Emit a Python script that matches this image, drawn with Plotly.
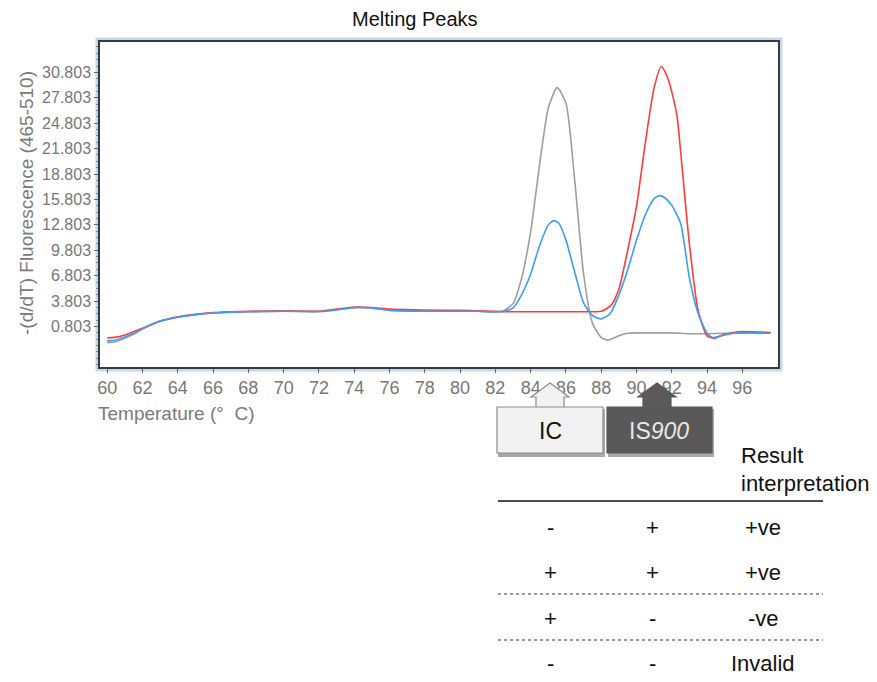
import plotly.graph_objects as go

# ---------------- data ----------------
temp_ic = [60, 60.5, 61, 61.5, 62, 63, 64, 65, 66, 67, 68, 70, 72, 73, 74, 75, 76, 78, 80, 81, 82,
           82.5, 83, 83.5, 84, 84.5, 85, 85.5, 86, 86.5, 87, 87.5, 88, 88.4, 89, 89.5, 90, 91, 92,
           93, 94, 95, 96, 97, 97.6]
fluor_ic = [-1.1, -1.0, -0.6, -0.1, 0.5, 1.4, 1.9, 2.2, 2.4, 2.5, 2.55, 2.6, 2.6, 2.8, 3.0, 2.95, 2.75,
            2.6, 2.65, 2.6, 2.5, 2.7, 3.5, 6.6, 12.0, 19.8, 26.6, 29.0, 27.2, 18.0, 7.0, 1.2, -0.5,
            -0.8, -0.3, 0.0, 0.05, 0.05, 0.05, -0.05, -0.05, 0.0, 0.0, 0.0, 0.0]

temp_is900 = [60, 60.5, 61, 61.5, 62, 63, 64, 65, 66, 67, 68, 70, 72, 73, 74, 75, 76, 78, 80, 81, 82,
              82.5, 84, 86, 88, 88.3, 88.6, 89, 89.5, 90, 90.5, 91, 91.4, 91.7, 92, 92.3, 92.5, 93,
              93.5, 94, 94.4, 95, 95.5, 96, 97, 97.6]
fluor_is900 = [-0.55, -0.45, -0.2, 0.2, 0.6, 1.45, 1.95, 2.25, 2.45, 2.55, 2.6, 2.65, 2.6, 2.85, 3.1,
               3.05, 2.85, 2.75, 2.7, 2.65, 2.6, 2.55, 2.55, 2.55, 2.6, 2.9, 3.4, 5.2, 9.8, 15.0,
               22.5, 29.0, 31.5, 30.5, 28.5, 25.6, 21.5, 10.5, 2.6, -0.3, -0.6, -0.1, 0.1, 0.2,
               0.15, 0.1]

temp_both = [60, 60.5, 61, 61.5, 62, 63, 64, 65, 66, 67, 68, 70, 72, 73, 74, 75, 76, 78, 80, 81, 82,
             82.5, 83, 83.5, 84, 84.5, 85, 85.3, 85.6, 86, 86.5, 87, 87.5, 88, 88.5, 89, 89.5, 90,
             90.5, 91, 91.3, 91.6, 92, 92.5, 93, 93.5, 94, 94.3, 95, 95.5, 96, 97, 97.6]
fluor_both = [-0.9, -0.8, -0.45, 0.0, 0.55, 1.45, 1.9, 2.2, 2.4, 2.5, 2.55, 2.6, 2.55, 2.75, 3.05,
              3.0, 2.7, 2.6, 2.6, 2.6, 2.55, 2.6, 3.0, 4.6, 7.0, 10.3, 12.8, 13.3, 13.0, 11.0, 7.2,
              3.6, 2.1, 1.7, 2.3, 4.5, 7.5, 11.0, 14.0, 15.9, 16.25, 16.0, 15.1, 13.0, 6.5, 2.3,
              0.0, -0.5, -0.2, 0.0, 0.05, 0.05, 0.0]

y_tick_vals = [0.803, 3.803, 6.803, 9.803, 12.803, 15.803, 18.803, 21.803, 24.803, 27.803, 30.803]
y_tick_text = ["0.803", "3.803", "6.803", "9.803", "12.803", "15.803", "18.803", "21.803",
               "24.803", "27.803", "30.803"]
x_tick_vals = [60, 62, 64, 66, 68, 70, 72, 74, 76, 78, 80, 82, 84, 86, 88, 90, 92, 94, 96]

table_cols = ["IC", "IS900", "Result interpretation"]
table_ic = ["-", "+", "+", "-"]
table_is900 = ["+", "+", "-", "-"]
table_result = ["+ve", "+ve", "-ve", "Invalid"]

# ---------------- layout helpers ----------------
W, H = 877, 682
L, R, T, B = 100, 778, 42, 367
FONT = "Liberation Sans, Arial, sans-serif"


def px(x, y):
    return ((x - L) / (R - L), (B - y) / (B - T))


fig = go.Figure()
line_kw = dict(width=1.6, shape="spline", smoothing=0.6)
fig.add_trace(go.Scatter(x=temp_ic, y=fluor_ic, mode="lines", line=dict(color="#9e9e9e", **line_kw),
                         name="IC", showlegend=False))
fig.add_trace(go.Scatter(x=temp_is900, y=fluor_is900, mode="lines", line=dict(color="#ff3b3b", **line_kw),
                         name="IS900", showlegend=False))
fig.add_trace(go.Scatter(x=temp_both, y=fluor_both, mode="lines", line=dict(color="#3d9cf5", **line_kw),
                         name="IC + IS900", showlegend=False))

shapes = []
annotations = []

# light blue band around the plot frame
x0, y0 = px(97.5, 39.5)
x1, y1 = px(780.5, 369.5)
shapes.append(dict(type="rect", xref="paper", yref="paper", x0=x0, y0=y1, x1=x1, y1=y0,
                   line=dict(color="#c4d8ee", width=4), fillcolor="rgba(0,0,0,0)", layer="below"))

# title and axis titles
tx, ty = px(415, 19)
annotations.append(dict(text="Melting Peaks", x=tx, y=ty, xref="paper", yref="paper", showarrow=False,
                        font=dict(family=FONT, size=20, color="#111111"), xanchor="center", yanchor="middle"))
tx, ty = px(26, 203)
annotations.append(dict(text="-(d/dT) Fluorescence (465-510)", x=tx, y=ty, xref="paper", yref="paper",
                        showarrow=False, textangle=-90,
                        font=dict(family=FONT, size=19, color="#7a7a7a"), xanchor="center", yanchor="middle"))
tx, ty = px(96, 413)
annotations.append(dict(text="Temperature (°  C)", x=tx, y=ty, xref="paper", yref="paper", showarrow=False,
                        font=dict(family=FONT, size=19, color="#7a7a7a"), xanchor="left", yanchor="middle"))


def path_from(points):
    pts = [px(a, b) for a, b in points]
    return "M " + " L ".join(f"{a:.5f},{b:.5f}" for a, b in pts) + " Z"


def box(xl, xr, yt, yb, fill, border):
    # shadow
    a0, b0 = px(xl + 1, yb + 4)
    a1, b1 = px(xr + 2, yt + 2)
    shapes.append(dict(type="rect", xref="paper", yref="paper", x0=a0, y0=b0, x1=a1, y1=b1,
                       line=dict(width=0), fillcolor="#a8a8a8"))
    a0, b0 = px(xl, yb)
    a1, b1 = px(xr, yt)
    shapes.append(dict(type="rect", xref="paper", yref="paper", x0=a0, y0=b0, x1=a1, y1=b1,
                       line=dict(color=border, width=1.2), fillcolor=fill))


def arrow(cx, fill, border):
    pts = [(cx - 14, 407.5), (cx - 14, 397), (cx - 19, 397), (cx, 383), (cx + 19, 397), (cx + 14, 397),
           (cx + 14, 407.5)]
    shapes.append(dict(type="path", xref="paper", yref="paper", path=path_from(pts),
                       line=dict(color=border, width=1.2), fillcolor=fill))


arrow(550, "#f2f2f2", "#8c8c8c")
arrow(657, "#5a5a5a", "#5a5a5a")
box(497, 603, 407, 453, "#f2f2f2", "#8c8c8c")
box(607, 712, 407, 453, "#595959", "#595959")

tx, ty = px(550, 431)
annotations.append(dict(text=table_cols[0], x=tx, y=ty, xref="paper", yref="paper", showarrow=False,
                        font=dict(family=FONT, size=23, color="#111111"), xanchor="center", yanchor="middle"))
tx, ty = px(659, 431)
annotations.append(dict(text="IS<i>900</i>", x=tx, y=ty, xref="paper", yref="paper", showarrow=False,
                        font=dict(family=FONT, size=23, color="#e8e8e8"), xanchor="center", yanchor="middle"))

# table header
tx, ty = px(739, 455)
annotations.append(dict(text="Result", x=tx, y=ty, xref="paper", yref="paper", showarrow=False,
                        font=dict(family=FONT, size=22, color="#111111"), xanchor="left", yanchor="middle"))
tx, ty = px(739, 484)
annotations.append(dict(text="interpretation", x=tx, y=ty, xref="paper", yref="paper", showarrow=False,
                        font=dict(family=FONT, size=22, color="#111111"), xanchor="left", yanchor="middle"))

# table lines
a0, b0 = px(498, 501)
a1, _ = px(823, 501)
shapes.append(dict(type="line", xref="paper", yref="paper", x0=a0, y0=b0, x1=a1, y1=b0,
                   line=dict(color="#111111", width=1.5)))
for yy in (594, 640):
    a0, b0 = px(498, yy)
    a1, _ = px(823, yy)
    shapes.append(dict(type="line", xref="paper", yref="paper", x0=a0, y0=b0, x1=a1, y1=b0,
                       line=dict(color="#333333", width=1, dash="dot")))

row_y = [527, 572, 618, 663]
for i, yy in enumerate(row_y):
    for xx, txt in ((550, table_ic[i]), (652, table_is900[i]), (763, table_result[i])):
        tx, ty = px(xx, yy)
        annotations.append(dict(text=txt, x=tx, y=ty, xref="paper", yref="paper", showarrow=False,
                                font=dict(family=FONT, size=22, color="#111111"),
                                xanchor="center", yanchor="middle"))

fig.update_layout(
    width=W, height=H,
    margin=dict(l=L, r=W - R, t=T, b=H - B, pad=0),
    paper_bgcolor="white", plot_bgcolor="white",
    shapes=shapes, annotations=annotations,
    font=dict(family=FONT),
)
fig.update_xaxes(range=[59.59, 98.02], tickvals=x_tick_vals, showgrid=False, zeroline=False,
                 showline=True, mirror=True, linecolor="#3a3a3a", linewidth=1.5,
                 ticks="outside", ticklen=4, tickcolor="#666666",
                 tickfont=dict(family=FONT, size=18, color="#777777"))
fig.update_yaxes(range=[-3.98, 34.39], tickvals=y_tick_vals, ticktext=y_tick_text, showgrid=False,
                 zeroline=False, showline=True, mirror=True, linecolor="#3a3a3a", linewidth=1.5,
                 ticks="outside", ticklen=4, tickcolor="#666666",
                 minor=dict(ticks="outside", ticklen=2, tickcolor="#888888", dtick=0.75, tick0=0.803),
                 tickfont=dict(family=FONT, size=16, color="#777777"))

fig.write_html("out.html", config={"displayModeBar": False},
               post_script="document.body.style.margin='0';document.body.style.overflow='hidden';")
